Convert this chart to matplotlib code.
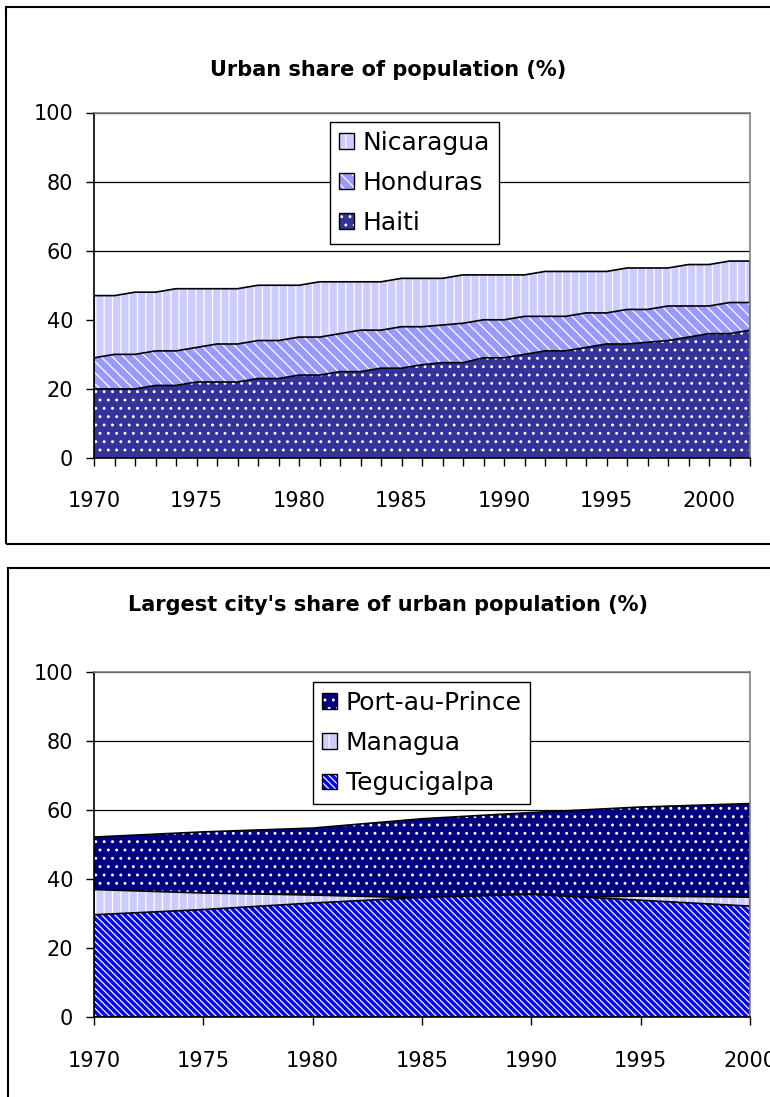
import matplotlib.pyplot as plt
from matplotlib.patches import Patch, Rectangle
from matplotlib.legend_handler import HandlerTuple

plt.rcParams['font.family'] = ['DejaVu Sans']
plt.rcParams['hatch.linewidth'] = 0.9

# Urban share of population (%), yearly
years = list(range(1970, 2003))
haiti = [20, 20, 20, 21, 21, 22, 22, 22, 23, 23,
         24, 24, 25, 25, 26, 26, 27, 27.6, 27.6, 29,
         29, 30, 31, 31, 32, 33, 33, 33.5, 34, 35,
         36, 36, 37]
honduras = [29, 30, 30, 31, 31, 32, 33, 33, 34, 34,
            35, 35, 36, 37, 37, 38, 38, 38.5, 39, 40,
            40, 41, 41, 41, 42, 42, 43, 43, 44, 44,
            44, 45, 45]
nicaragua = [47, 47, 48, 48, 49, 49, 49, 49, 50, 50,
             50, 51, 51, 51, 51, 52, 52, 52, 53, 53,
             53, 53, 54, 54, 54, 54, 55, 55, 55, 56,
             56, 57, 57]

# Largest city's share of urban population (%), every 5 years
city_years = [1970, 1975, 1980, 1985, 1990, 1995, 2000]
port_au_prince = [52.2, 53.7, 54.8, 57.5, 59.3, 60.9, 61.9]
managua = [37.0, 36.0, 35.4, 34.6, 34.6, 35.1, 34.8]
tegucigalpa = [29.7, 31.2, 33.1, 34.7, 35.6, 33.9, 32.2]

W, H = 770, 1097
fig = plt.figure(figsize=(W / 100, H / 100), dpi=100)


def px_axes(left, top, right, bottom):
    return fig.add_axes([left / W, 1 - bottom / H, (right - left) / W, (bottom - top) / H])


def area(ax, x, y, color, hatch):
    ax.fill_between(x, 0, y, facecolor=color, edgecolor='white', hatch=hatch, linewidth=0)
    ax.fill_between(x, 0, y, facecolor='none', edgecolor='black', linewidth=1.2)
    return (Patch(facecolor=color, edgecolor='white', hatch=hatch, linewidth=0),
            Patch(facecolor='none', edgecolor='black', linewidth=1))


def style(ax, xmax):
    ax.set_xlim(1970, xmax)
    ax.set_ylim(0, 100)
    ax.set_yticks(range(0, 101, 20))
    ax.grid(axis='y', color='black', linewidth=0.9)
    ax.set_axisbelow(True)
    for s in ['top', 'right']:
        ax.spines[s].set_color('#808080')
    for s in ['left', 'bottom']:
        ax.spines[s].set_color('black')
    for s in ax.spines.values():
        s.set_linewidth(1.2)
    ax.tick_params(axis='y', direction='out', length=6, width=1, pad=9, labelsize=15)
    ax.tick_params(axis='x', direction='out', length=6, width=1, pad=18, labelsize=15)


def legend(ax, handles, labels, left, top):
    leg = ax.legend(handles, labels, handler_map={tuple: HandlerTuple(ndivide=1, pad=0)},
                    loc='upper left', bbox_to_anchor=(left / W, 1 - top / H),
                    bbox_transform=fig.transFigure, borderaxespad=0, fancybox=False,
                    edgecolor='black', framealpha=1, fontsize=18, handlelength=0.6,
                    handleheight=0.6, handletextpad=0.35, labelspacing=0.65, borderpad=0.35)
    leg.get_frame().set_linewidth(1.0)
    return leg


# chart frames
fig.patches.append(Rectangle((6 / W, 1 - 544 / H), 800 / W, 537 / H, transform=fig.transFigure,
                             fill=False, edgecolor='black', linewidth=1.5))
fig.patches.append(Rectangle((8 / W, -10 / H), 800 / W, (H - 568 + 10) / H, transform=fig.transFigure,
                             fill=False, edgecolor='black', linewidth=1.5))

# top chart
ax1 = px_axes(94, 112.5, 750, 458)
h_nic = area(ax1, years, nicaragua, '#ccccff', '||')
h_hon = area(ax1, years, honduras, '#9999ff', '\\\\\\')
h_hai = area(ax1, years, haiti, '#333399', '..')
style(ax1, 2002)
ax1.set_xticks(years)
ax1.set_xticklabels([str(y) if y % 5 == 0 else '' for y in years])
fig.text(388 / W, 1 - 70 / H, 'Urban share of population (%)', ha='center', va='center',
         fontsize=15, fontweight='bold')
legend(ax1, [h_nic, h_hon, h_hai], ['Nicaragua', 'Honduras', 'Haiti'], 330, 122)

# bottom chart
ax2 = px_axes(94, 672, 750, 1017.3)
h_pap = area(ax2, city_years, port_au_prince, '#000080', '..')
h_man = area(ax2, city_years, managua, '#ccccff', '||')
h_teg = area(ax2, city_years, tegucigalpa, '#0000ff', '\\\\\\\\\\')
style(ax2, 2000)
ax2.set_xticks(city_years)
fig.text(388 / W, 1 - 605 / H, "Largest city's share of urban population (%)", ha='center',
         va='center', fontsize=15, fontweight='bold')
legend(ax2, [h_pap, h_man, h_teg], ['Port-au-Prince', 'Managua', 'Tegucigalpa'], 313, 682)

fig.savefig('out.png', dpi=100)
